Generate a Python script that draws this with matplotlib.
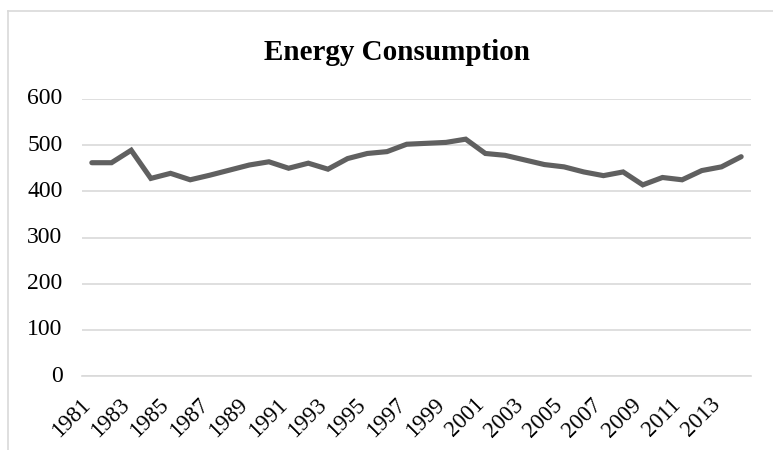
import matplotlib
matplotlib.use("Agg")
import matplotlib.pyplot as plt
import matplotlib.transforms as mtransforms
from matplotlib.lines import Line2D

# data
years = list(range(1981, 2015))
consumption = [462, 462, 489, 428, 439, 425, 435, 446, 457, 464,
               450, 461, 448, 471, 482, 486, 502, 504, 506, 513,
               482, 478, 468, 458, 453, 442, 434, 442, 414, 430,
               425, 445, 453, 475]
y_ticks = [0, 100, 200, 300, 400, 500, 600]
x_ticks = years[::2]
x_labels = [str(y) for y in x_ticks]

plt.rcParams['font.family'] = ['Liberation Serif', 'DejaVu Serif']

fig = plt.figure(figsize=(7.73, 4.5), dpi=100)
ax = fig.add_axes([82 / 773, 1 - 376 / 450, (751 - 82) / 773, (376 - 99) / 450])

ax.plot(years, consumption, color='#606060', linewidth=3.7,
        solid_capstyle='round', solid_joinstyle='miter', zorder=3)

ax.set_xlim(1980.5, 2014.5)
ax.set_ylim(0, 600)
ax.set_yticks(y_ticks)
ax.set_xticks(x_ticks)
ax.tick_params(length=0, labelbottom=False, labelleft=False)
ax.grid(axis='y', color='#d9d9d9', linewidth=1.2)
ax.set_axisbelow(True)
for side in ['top', 'right', 'left']:
    ax.spines[side].set_visible(False)
ax.spines['bottom'].set_color('#d9d9d9')
ax.spines['bottom'].set_linewidth(1.2)

# tick labels drawn as text so size / alignment match the Excel look
ytrans = mtransforms.offset_copy(ax.get_yaxis_transform(), fig=fig, x=-14, y=0, units='points')
for v in y_ticks:
    ax.text(0, v, str(v), transform=ytrans, fontsize=17, ha='right', va='center')

xtrans = mtransforms.offset_copy(ax.get_xaxis_transform(), fig=fig, x=2, y=-13, units='points')
for x, lbl in zip(x_ticks, x_labels):
    ax.text(x, 0, lbl, transform=xtrans, fontsize=16.5, rotation=45,
            ha='right', va='top')

fig.text(397 / 773, 1 - 52 / 450, 'Energy Consumption', fontsize=21,
         fontweight='bold', ha='center', va='center')

# chart area border (cropped at right and bottom)
fig.add_artist(Line2D([8 / 773, 8 / 773], [0, 1 - 11 / 450],
                      color='#d9d9d9', linewidth=1.2))
fig.add_artist(Line2D([8 / 773, 1], [1 - 11 / 450, 1 - 11 / 450],
                      color='#d9d9d9', linewidth=1.2))

fig.savefig('out.png', dpi=100)
